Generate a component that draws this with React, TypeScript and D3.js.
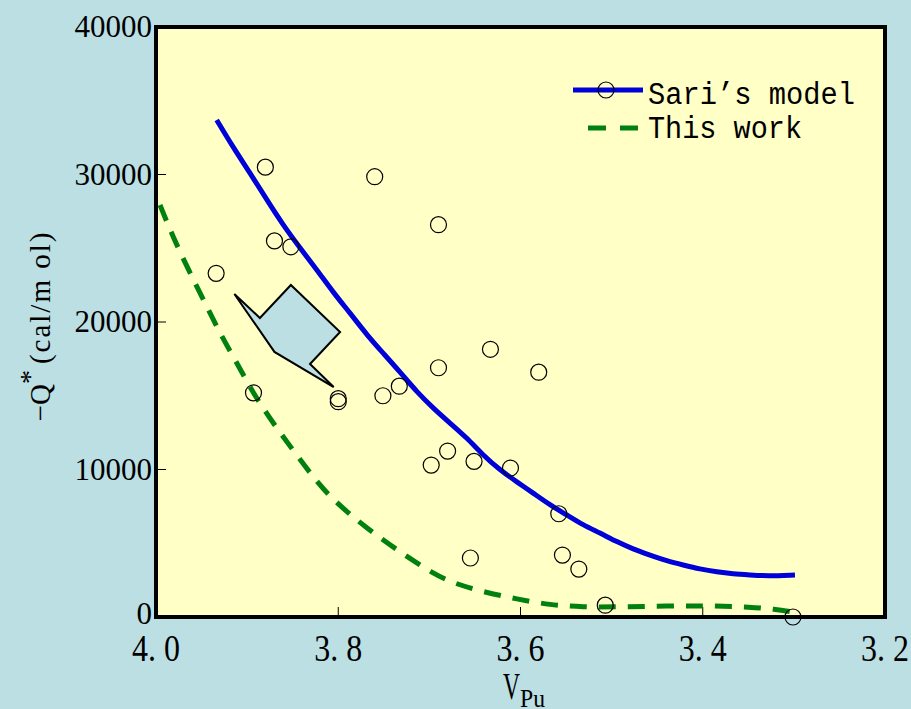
import React from "react";
import * as d3 from "d3";

// Experimental points: V_Pu and -Q* (cal/mol)
const pointV = [3.934, 3.880, 3.870, 3.852, 3.893, 3.800, 3.800, 3.760, 3.751, 3.733, 3.690, 3.690, 3.698, 3.680, 3.633, 3.651, 3.611, 3.580, 3.655, 3.558, 3.554, 3.536, 3.507, 3.301];
const pointQ = [23300, 30500, 25500, 25100, 15200, 14800, 14600, 29850, 15000, 15650, 26600, 16900, 10300, 11250, 18150, 10550, 10100, 16600, 4000, 7000, 4200, 3250, 800, 0];

// Sari's model curve
const sariV = [3.9334, 3.9155, 3.8968, 3.8782, 3.8606, 3.8420, 3.8233, 3.8058, 3.7871, 3.7685, 3.7509, 3.7322, 3.7136, 3.6960, 3.6774, 3.6587, 3.6412, 3.6225, 3.6038, 3.5863, 3.5676, 3.5490, 3.5314, 3.5128, 3.4941, 3.4765, 3.4579, 3.4392, 3.4217, 3.4030, 3.3844, 3.3668, 3.3481, 3.3295, 3.2988];
const sariQ = [33700, 31860, 30100, 28270, 26580, 25020, 23530, 22030, 20610, 19120, 17900, 16610, 15250, 14170, 13150, 12140, 10980, 9970, 9150, 8410, 7590, 6920, 6240, 5700, 5090, 4610, 4200, 3800, 3530, 3250, 3050, 2920, 2850, 2780, 2850];

// This work curve
const workV = [3.9956, 3.9813, 3.9627, 3.9440, 3.9276, 3.9111, 3.8936, 3.8716, 3.8497, 3.8277, 3.8058, 3.7706, 3.7322, 3.7136, 3.6960, 3.6774, 3.6412, 3.6038, 3.5676, 3.5314, 3.4941, 3.4392, 3.3844, 3.3481, 3.3229, 3.2933];
const workQ = [27930, 25760, 23320, 21020, 18980, 17220, 15190, 13150, 11320, 9490, 7930, 6100, 4410, 3660, 2980, 2370, 1700, 1220, 810, 680, 680, 750, 750, 680, 540, 270];

// Callout arrow outline (data units)
const calloutV = [3.914, 3.886, 3.852, 3.798, 3.831, 3.805, 3.870];
const calloutQ = [21900, 20270, 22510, 19320, 17150, 15590, 17970];

const xTicks = [4.0, 3.8, 3.6, 3.4, 3.2];
const xTickLabels = ["4. 0", "3. 8", "3. 6", "3. 4", "3. 2"];
const yTicks = [0, 10000, 20000, 30000, 40000];

const W = 911;
const H = 709;
const plot = { left: 156, right: 885, top: 27, bottom: 617 };

export default function App() {
  const x = d3.scaleLinear().domain([4.0, 3.2]).range([plot.left, plot.right]);
  const y = d3.scaleLinear().domain([0, 40000]).range([plot.bottom, plot.top]);

  const line = d3
    .line<[number, number]>()
    .x((d) => x(d[0]))
    .y((d) => y(d[1]))
    .curve(d3.curveBasis);

  const sari = sariV.map((v, i) => [v, sariQ[i]] as [number, number]);
  const work = workV.map((v, i) => [v, workQ[i]] as [number, number]);
  const callout = calloutV.map((v, i) => `${x(v)},${y(calloutQ[i])}`).join(" ");

  const serif = "'Liberation Serif', 'Times New Roman', serif";
  const mono = "'Liberation Mono', 'DejaVu Sans Mono', monospace";

  return (
    <svg
      width={W}
      height={H}
      style={{ position: "absolute", left: 0, top: 0, display: "block" }}
    >
      <rect x={0} y={0} width={W} height={H} fill="#bbdfe3" />
      <rect
        x={plot.left}
        y={plot.top}
        width={plot.right - plot.left}
        height={plot.bottom - plot.top}
        fill="#ffffc6"
      />

      {/* inner ticks */}
      {xTicks.map((t) => (
        <line
          key={"xt" + t}
          x1={x(t)}
          x2={x(t)}
          y1={plot.bottom}
          y2={plot.bottom - 10}
          stroke="#000"
          strokeWidth={1}
        />
      ))}
      {yTicks.map((t) => (
        <line
          key={"yt" + t}
          x1={plot.left}
          x2={plot.left + 10}
          y1={y(t)}
          y2={y(t)}
          stroke="#000"
          strokeWidth={1}
        />
      ))}

      {/* callout */}
      <polygon points={callout} fill="#bbdfe3" stroke="#000" strokeWidth={2} strokeLinejoin="miter" />

      {/* curves */}
      <path d={line(work) || ""} fill="none" stroke="#00800e" strokeWidth={5} strokeDasharray="17 12" />
      <path d={line(sari) || ""} fill="none" stroke="#0000d8" strokeWidth={5} />

      {/* points */}
      {pointV.map((v, i) => (
        <circle
          key={"p" + i}
          cx={x(v)}
          cy={y(pointQ[i])}
          r={8}
          fill="none"
          stroke="#000"
          strokeWidth={1.2}
        />
      ))}

      {/* frame */}
      <rect
        x={plot.left}
        y={plot.top}
        width={plot.right - plot.left}
        height={plot.bottom - plot.top}
        fill="none"
        stroke="#000"
        strokeWidth={4}
      />

      {/* y tick labels */}
      {yTicks.map((t) => (
        <text
          key={"yl" + t}
          x={plot.left - 4}
          y={y(t) + (t === 0 ? 0 : 3)}
          textAnchor="end"
          fontFamily={serif}
          fontSize={31}
          dominantBaseline="middle"
          fill="#000"
        >
          {t}
        </text>
      ))}

      {/* x tick labels */}
      {xTicks.map((t, i) => (
        <text
          key={"xl" + t}
          x={x(t) - 24}
          y={661}
          fontFamily={serif}
          fontSize={38}
          textLength={48}
          lengthAdjust="spacingAndGlyphs"
          fill="#000"
        >
          {xTickLabels[i]}
        </text>
      ))}

      {/* axis titles */}
      <text x={503} y={699} fontFamily={serif} fontSize={38} fill="#000" textLength={17} lengthAdjust="spacingAndGlyphs">
        V
      </text>
      <text x={520} y={707} fontFamily={serif} fontSize={25} fill="#000" textLength={25} lengthAdjust="spacingAndGlyphs">
        Pu
      </text>
      <text
        transform="translate(50,326) rotate(-90)"
        textAnchor="middle"
        fontFamily={serif}
        fontSize={29}
        fill="#000"
      >
        <tspan>−Q</tspan>
        <tspan dy={-11} fontSize={28}>*</tspan>
        <tspan dy={11} dx={6} letterSpacing={2}>(cal/m ol)</tspan>
      </text>

      {/* legend */}
      <line x1={573} x2={643} y1={90} y2={90} stroke="#0000d8" strokeWidth={5} />
      <circle cx={606} cy={90} r={8} fill="none" stroke="#000" strokeWidth={1.2} />
      <text x={648} y={104} fontFamily={mono} fontSize={31} textLength={207} lengthAdjust="spacingAndGlyphs" fill="#000">
        Sari’s model
      </text>
      <line x1={588} x2={640} y1={128} y2={128} stroke="#00800e" strokeWidth={5} strokeDasharray="18 14" />
      <text x={648} y={138} fontFamily={mono} fontSize={31} textLength={154} lengthAdjust="spacingAndGlyphs" fill="#000">
        This work
      </text>
    </svg>
  );
}
